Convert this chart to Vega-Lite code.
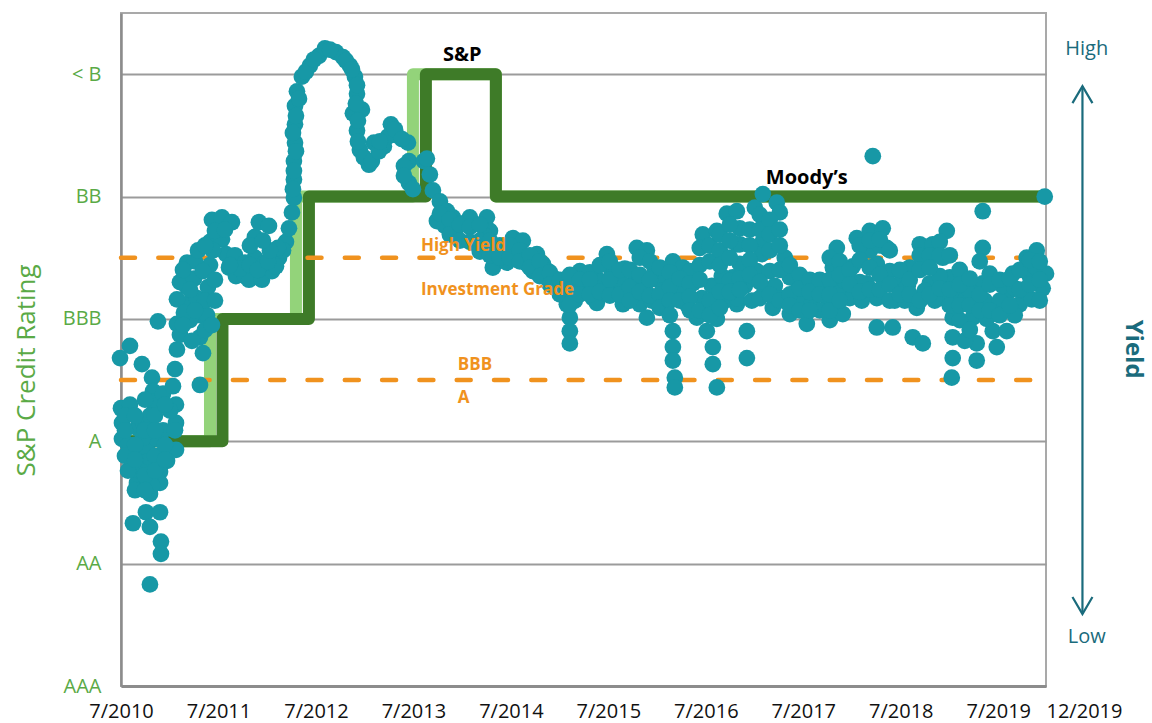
{
  "$schema": "https://vega.github.io/schema/vega-lite/v6.json",
  "width": 925,
  "height": 673,
  "autosize": {"type": "none"},
  "padding": {"left": 121, "top": 13, "right": 106, "bottom": 37},
  "background": "white",
  "config": {"font": "Open Sans", "view": {"stroke": "#a9a9a9", "strokeWidth": 2}},
  "datasets": {
    "ratings": [
      {"agency": "Moody's", "year": 2010.5, "rating": 2},
      {"agency": "Moody's", "year": 2011.413, "rating": 3},
      {"agency": "Moody's", "year": 2012.295, "rating": 4},
      {"agency": "Moody's", "year": 2013.495, "rating": 5},
      {"agency": "Moody's", "year": 2014.346, "rating": 4},
      {"agency": "Moody's", "year": 2019.99, "rating": 4},
      {"agency": "S&P", "year": 2010.5, "rating": 2},
      {"agency": "S&P", "year": 2011.541, "rating": 3},
      {"agency": "S&P", "year": 2012.428, "rating": 4},
      {"agency": "S&P", "year": 2013.628, "rating": 5},
      {"agency": "S&P", "year": 2014.346, "rating": 4},
      {"agency": "S&P", "year": 2019.99, "rating": 4}
    ],
    "boundaries": [
      {"name": "High Yield / Investment Grade", "rating": 3.5},
      {"name": "BBB / A", "rating": 2.5}
    ],
    "yields": [
      {"year": 2010.49, "level": 2.68}, {"year": 2010.592, "level": 2.78}, {"year": 2010.715, "level": 2.63}, {"year": 2010.818, "level": 2.52},
      {"year": 2010.828, "level": 2.41}, {"year": 2011.054, "level": 2.59}, {"year": 2011.31, "level": 2.46}, {"year": 2010.5, "level": 2.27},
      {"year": 2010.592, "level": 2.30}, {"year": 2010.51, "level": 2.15}, {"year": 2010.51, "level": 2.02}, {"year": 2010.664, "level": 2.11},
      {"year": 2010.726, "level": 2.15}, {"year": 2010.828, "level": 2.32}, {"year": 2010.931, "level": 2.39}, {"year": 2011.033, "level": 2.45},
      {"year": 2011.064, "level": 2.30}, {"year": 2011.064, "level": 2.15}, {"year": 2011.064, "level": 1.93}, {"year": 2010.972, "level": 1.84},
      {"year": 2010.9, "level": 1.75}, {"year": 2010.9, "level": 1.66}, {"year": 2010.797, "level": 1.57}, {"year": 2010.664, "level": 1.66},
      {"year": 2010.623, "level": 1.81}, {"year": 2010.664, "level": 1.93}, {"year": 2010.767, "level": 1.93}, {"year": 2010.869, "level": 2.02},
      {"year": 2010.623, "level": 1.33}, {"year": 2010.756, "level": 1.42}, {"year": 2010.9, "level": 1.42}, {"year": 2010.797, "level": 1.30},
      {"year": 2010.91, "level": 1.18}, {"year": 2010.91, "level": 1.08}, {"year": 2010.797, "level": 0.83},
      {"year": 2010.572, "level": 1.97}, {"year": 2010.726, "level": 2.03}, {"year": 2010.797, "level": 2.21}, {"year": 2010.931, "level": 2.09},
      {"year": 2011.003, "level": 2.25}, {"year": 2010.746, "level": 1.83}, {"year": 2010.849, "level": 1.88}, {"year": 2010.951, "level": 1.97},
      {"year": 2010.695, "level": 1.76}, {"year": 2010.818, "level": 1.64}, {"year": 2010.572, "level": 1.76}, {"year": 2010.541, "level": 1.88},
      {"year": 2010.541, "level": 2.21}, {"year": 2010.541, "level": 2.09}, {"year": 2010.644, "level": 2.21}, {"year": 2010.644, "level": 1.97},
      {"year": 2010.644, "level": 1.85}, {"year": 2010.644, "level": 1.60}, {"year": 2010.746, "level": 2.34}, {"year": 2010.746, "level": 2.09},
      {"year": 2010.746, "level": 1.72}, {"year": 2010.746, "level": 1.60}, {"year": 2010.849, "level": 2.21}, {"year": 2010.849, "level": 2.09},
      {"year": 2010.849, "level": 1.76}, {"year": 2010.951, "level": 2.30}, {"year": 2010.951, "level": 1.85}, {"year": 2011.054, "level": 2.09},
      {"year": 2010.879, "level": 2.98}, {"year": 2011.074, "level": 2.96}, {"year": 2011.074, "level": 2.75}, {"year": 2011.105, "level": 2.87},
      {"year": 2011.177, "level": 3.12}, {"year": 2011.177, "level": 3.26}, {"year": 2011.177, "level": 3.46}, {"year": 2011.105, "level": 3.30},
      {"year": 2011.074, "level": 3.16}, {"year": 2011.249, "level": 3.33}, {"year": 2011.279, "level": 3.17}, {"year": 2011.31, "level": 3.03},
      {"year": 2011.31, "level": 2.85}, {"year": 2011.341, "level": 2.72}, {"year": 2011.382, "level": 3.03}, {"year": 2011.392, "level": 3.26},
      {"year": 2011.413, "level": 3.44}, {"year": 2011.413, "level": 3.63}, {"year": 2011.433, "level": 3.81}, {"year": 2011.536, "level": 3.83},
      {"year": 2011.638, "level": 3.79}, {"year": 2011.536, "level": 3.65}, {"year": 2011.577, "level": 3.53}, {"year": 2011.608, "level": 3.42},
      {"year": 2011.679, "level": 3.35}, {"year": 2011.772, "level": 3.35}, {"year": 2011.813, "level": 3.32}, {"year": 2011.874, "level": 3.50},
      {"year": 2011.874, "level": 3.67}, {"year": 2011.915, "level": 3.79}, {"year": 2012.018, "level": 3.76}, {"year": 2011.946, "level": 3.32},
      {"year": 2012.049, "level": 3.39}, {"year": 2012.121, "level": 3.50}, {"year": 2012.192, "level": 3.63}, {"year": 2012.223, "level": 3.74},
      {"year": 2012.254, "level": 3.87}, {"year": 2012.274, "level": 3.99}, {"year": 2012.274, "level": 4.14}, {"year": 2012.274, "level": 4.29},
      {"year": 2012.285, "level": 4.44}, {"year": 2012.285, "level": 4.59}, {"year": 2012.285, "level": 4.74}, {"year": 2012.305, "level": 4.86},
      {"year": 2012.356, "level": 4.98}, {"year": 2012.438, "level": 5.07}, {"year": 2012.531, "level": 5.15}, {"year": 2012.592, "level": 5.21},
      {"year": 2012.705, "level": 5.18}, {"year": 2012.777, "level": 5.14}, {"year": 2012.849, "level": 5.07}, {"year": 2012.9, "level": 4.98},
      {"year": 2012.921, "level": 4.84}, {"year": 2012.879, "level": 4.68}, {"year": 2012.972, "level": 4.71}, {"year": 2012.921, "level": 4.54},
      {"year": 2012.951, "level": 4.38}, {"year": 2013.044, "level": 4.26}, {"year": 2013.095, "level": 4.44}, {"year": 2013.197, "level": 4.41},
      {"year": 2013.269, "level": 4.59}, {"year": 2013.331, "level": 4.50}, {"year": 2013.444, "level": 4.44}, {"year": 2013.454, "level": 4.29},
      {"year": 2013.454, "level": 4.11}, {"year": 2013.608, "level": 4.29},
      {"year": 2011.208, "level": 2.99}, {"year": 2011.259, "level": 3.47}, {"year": 2011.341, "level": 3.39}, {"year": 2011.362, "level": 3.15},
      {"year": 2011.444, "level": 3.56}, {"year": 2011.464, "level": 3.72}, {"year": 2011.146, "level": 3.05}, {"year": 2011.228, "level": 2.82},
      {"year": 2011.669, "level": 3.52}, {"year": 2011.772, "level": 3.46}, {"year": 2011.977, "level": 3.46}, {"year": 2011.823, "level": 3.60},
      {"year": 2011.721, "level": 3.41}, {"year": 2012.162, "level": 3.56}, {"year": 2012.09, "level": 3.43},
      {"year": 2011.136, "level": 3.40}, {"year": 2011.208, "level": 3.24}, {"year": 2011.136, "level": 2.95}, {"year": 2011.259, "level": 3.07},
      {"year": 2011.362, "level": 2.91}, {"year": 2011.29, "level": 3.56}, {"year": 2011.362, "level": 3.60}, {"year": 2011.464, "level": 3.32},
      {"year": 2011.464, "level": 3.15}, {"year": 2011.433, "level": 2.95}, {"year": 2011.567, "level": 3.73}, {"year": 2011.618, "level": 3.44},
      {"year": 2011.823, "level": 3.44}, {"year": 2011.905, "level": 3.40}, {"year": 2012.008, "level": 3.47}, {"year": 2012.11, "level": 3.58},
      {"year": 2012.028, "level": 3.56}, {"year": 2011.956, "level": 3.64},
      {"year": 2012.264, "level": 4.06}, {"year": 2012.274, "level": 4.21}, {"year": 2012.295, "level": 4.37}, {"year": 2012.264, "level": 4.52},
      {"year": 2012.295, "level": 4.66}, {"year": 2012.326, "level": 4.80}, {"year": 2012.397, "level": 5.02}, {"year": 2012.479, "level": 5.12},
      {"year": 2012.644, "level": 5.20}, {"year": 2012.808, "level": 5.11}, {"year": 2012.869, "level": 5.04}, {"year": 2012.921, "level": 4.91},
      {"year": 2012.91, "level": 4.76}, {"year": 2012.931, "level": 4.62}, {"year": 2012.931, "level": 4.45}, {"year": 2012.992, "level": 4.32},
      {"year": 2013.074, "level": 4.29}, {"year": 2013.146, "level": 4.37}, {"year": 2013.238, "level": 4.49}, {"year": 2013.31, "level": 4.55},
      {"year": 2013.382, "level": 4.47}, {"year": 2013.403, "level": 4.25}, {"year": 2013.403, "level": 4.17}, {"year": 2013.495, "level": 4.06},
      {"year": 2013.156, "level": 4.45},
      {"year": 2013.638, "level": 4.31}, {"year": 2013.669, "level": 4.18}, {"year": 2013.7, "level": 4.05}, {"year": 2013.772, "level": 3.96},
      {"year": 2013.741, "level": 3.80}, {"year": 2013.844, "level": 3.88}, {"year": 2013.905, "level": 3.83}, {"year": 2014.008, "level": 3.78},
      {"year": 2014.079, "level": 3.83}, {"year": 2014.254, "level": 3.83}, {"year": 2014.151, "level": 3.61}, {"year": 2014.285, "level": 3.72},
      {"year": 2014.315, "level": 3.42}, {"year": 2014.418, "level": 3.53}, {"year": 2014.521, "level": 3.66}, {"year": 2014.623, "level": 3.64},
      {"year": 2014.664, "level": 3.45}, {"year": 2014.767, "level": 3.53}, {"year": 2014.828, "level": 3.45}, {"year": 2014.931, "level": 3.34},
      {"year": 2015.003, "level": 3.23}, {"year": 2015.074, "level": 3.12}, {"year": 2015.105, "level": 3.01}, {"year": 2015.105, "level": 2.90},
      {"year": 2015.105, "level": 2.80}, {"year": 2015.208, "level": 3.39}, {"year": 2015.279, "level": 3.25}, {"year": 2015.341, "level": 3.17},
      {"year": 2015.485, "level": 3.53}, {"year": 2015.413, "level": 3.31}, {"year": 2015.587, "level": 3.23}, {"year": 2015.649, "level": 3.12},
      {"year": 2015.751, "level": 3.29}, {"year": 2015.792, "level": 3.58}, {"year": 2015.895, "level": 3.56}, {"year": 2015.823, "level": 3.12},
      {"year": 2015.895, "level": 3.01}, {"year": 2016.028, "level": 3.31}, {"year": 2016.1, "level": 3.12}, {"year": 2016.162, "level": 3.47},
      {"year": 2016.264, "level": 3.42}, {"year": 2016.162, "level": 2.90}, {"year": 2016.162, "level": 2.77}, {"year": 2016.162, "level": 2.66},
      {"year": 2016.182, "level": 2.52}, {"year": 2016.182, "level": 2.44}, {"year": 2016.367, "level": 3.29}, {"year": 2016.469, "level": 3.69},
      {"year": 2016.613, "level": 3.72}, {"year": 2016.715, "level": 3.86}, {"year": 2016.818, "level": 3.88}, {"year": 2016.408, "level": 3.01},
      {"year": 2016.51, "level": 2.90}, {"year": 2016.572, "level": 2.77}, {"year": 2016.572, "level": 2.63}, {"year": 2016.613, "level": 2.44},
      {"year": 2016.777, "level": 3.34}, {"year": 2016.818, "level": 3.61}, {"year": 2016.818, "level": 3.12}, {"year": 2016.849, "level": 3.45},
      {"year": 2013.823, "level": 3.76}, {"year": 2013.926, "level": 3.70}, {"year": 2014.233, "level": 3.68}, {"year": 2014.356, "level": 3.57},
      {"year": 2014.459, "level": 3.46}, {"year": 2014.562, "level": 3.54}, {"year": 2014.726, "level": 3.39}, {"year": 2014.879, "level": 3.39},
      {"year": 2014.972, "level": 3.27}, {"year": 2015.054, "level": 3.30}, {"year": 2015.156, "level": 3.15}, {"year": 2015.31, "level": 3.38},
      {"year": 2015.382, "level": 3.13}, {"year": 2015.474, "level": 3.21}, {"year": 2015.536, "level": 3.39}, {"year": 2015.618, "level": 3.31},
      {"year": 2015.7, "level": 3.17}, {"year": 2015.874, "level": 3.27}, {"year": 2015.946, "level": 3.15}, {"year": 2015.977, "level": 3.41},
      {"year": 2016.059, "level": 3.23}, {"year": 2016.233, "level": 3.23}, {"year": 2016.315, "level": 3.11}, {"year": 2016.336, "level": 3.39},
      {"year": 2016.459, "level": 3.17}, {"year": 2016.562, "level": 3.27}, {"year": 2016.664, "level": 3.35}, {"year": 2016.695, "level": 3.15},
      {"year": 2016.613, "level": 3.00}, {"year": 2015.669, "level": 3.41},
      {"year": 2016.849, "level": 3.74}, {"year": 2016.849, "level": 3.61}, {"year": 2016.746, "level": 3.31}, {"year": 2016.818, "level": 3.17},
      {"year": 2016.921, "level": 2.90}, {"year": 2016.921, "level": 2.68}, {"year": 2017.003, "level": 3.91}, {"year": 2017.085, "level": 4.02},
      {"year": 2017.228, "level": 3.95}, {"year": 2017.259, "level": 3.87}, {"year": 2017.074, "level": 3.62}, {"year": 2017.074, "level": 3.53},
      {"year": 2017.023, "level": 3.39}, {"year": 2017.156, "level": 3.39}, {"year": 2017.31, "level": 3.50}, {"year": 2017.362, "level": 3.34},
      {"year": 2017.433, "level": 3.23}, {"year": 2017.187, "level": 3.09}, {"year": 2017.362, "level": 3.04}, {"year": 2017.536, "level": 2.96},
      {"year": 2017.638, "level": 3.23}, {"year": 2017.741, "level": 3.09}, {"year": 2017.772, "level": 2.99}, {"year": 2017.905, "level": 3.04},
      {"year": 2017.803, "level": 3.42}, {"year": 2017.844, "level": 3.58}, {"year": 2017.977, "level": 3.17}, {"year": 2018.049, "level": 3.66},
      {"year": 2018.182, "level": 3.72}, {"year": 2018.315, "level": 3.74}, {"year": 2018.254, "level": 3.45}, {"year": 2018.151, "level": 3.29},
      {"year": 2018.254, "level": 3.17}, {"year": 2018.356, "level": 3.58}, {"year": 2018.387, "level": 3.39}, {"year": 2018.254, "level": 2.93},
      {"year": 2018.418, "level": 2.93}, {"year": 2018.49, "level": 3.29}, {"year": 2018.592, "level": 3.42}, {"year": 2018.695, "level": 3.61},
      {"year": 2018.797, "level": 3.29}, {"year": 2018.664, "level": 3.09}, {"year": 2018.623, "level": 2.85}, {"year": 2018.726, "level": 2.80},
      {"year": 2018.828, "level": 3.61}, {"year": 2018.972, "level": 3.72}, {"year": 2018.931, "level": 3.50}, {"year": 2019.003, "level": 3.34},
      {"year": 2018.931, "level": 3.17}, {"year": 2019.136, "level": 3.29}, {"year": 2019.033, "level": 3.01}, {"year": 2019.033, "level": 2.85},
      {"year": 2019.033, "level": 2.68}, {"year": 2019.023, "level": 2.52}, {"year": 2019.238, "level": 3.01}, {"year": 2019.279, "level": 2.80},
      {"year": 2019.279, "level": 2.66}, {"year": 2019.485, "level": 2.77}, {"year": 2019.444, "level": 2.90}, {"year": 2019.341, "level": 3.29},
      {"year": 2019.413, "level": 3.37}, {"year": 2019.587, "level": 2.90}, {"year": 2019.618, "level": 3.23}, {"year": 2019.649, "level": 3.37},
      {"year": 2019.721, "level": 3.12}, {"year": 2019.792, "level": 3.50}, {"year": 2019.895, "level": 3.56}, {"year": 2019.99, "level": 3.37},
      {"year": 2019.956, "level": 3.25}, {"year": 2019.977, "level": 4.00}, {"year": 2019.341, "level": 3.88}, {"year": 2019.341, "level": 3.58},
      {"year": 2018.213, "level": 4.33},
      {"year": 2016.9, "level": 3.27}, {"year": 2016.972, "level": 3.15}, {"year": 2017.105, "level": 3.23}, {"year": 2017.208, "level": 3.27},
      {"year": 2017.279, "level": 3.17}, {"year": 2017.464, "level": 3.15}, {"year": 2017.515, "level": 3.31}, {"year": 2017.587, "level": 3.12},
      {"year": 2017.669, "level": 3.07}, {"year": 2017.721, "level": 3.27}, {"year": 2017.854, "level": 3.23}, {"year": 2017.926, "level": 3.31},
      {"year": 2018.008, "level": 3.43}, {"year": 2018.079, "level": 3.30}, {"year": 2018.1, "level": 3.15}, {"year": 2018.182, "level": 3.56},
      {"year": 2018.285, "level": 3.60}, {"year": 2018.438, "level": 3.15}, {"year": 2018.541, "level": 3.15}, {"year": 2018.572, "level": 3.27},
      {"year": 2018.746, "level": 3.23}, {"year": 2018.849, "level": 3.15}, {"year": 2018.746, "level": 3.43}, {"year": 2018.9, "level": 3.35},
      {"year": 2019.085, "level": 3.19}, {"year": 2019.156, "level": 3.15}, {"year": 2019.208, "level": 3.23}, {"year": 2019.362, "level": 3.15},
      {"year": 2019.515, "level": 3.15}, {"year": 2019.546, "level": 3.27}, {"year": 2019.669, "level": 3.25}, {"year": 2019.772, "level": 3.23},
      {"year": 2019.823, "level": 3.35}, {"year": 2019.874, "level": 3.43}, {"year": 2019.844, "level": 3.16}, {"year": 2019.105, "level": 2.99},
      {"year": 2019.156, "level": 2.82}, {"year": 2019.382, "level": 3.00}, {"year": 2019.669, "level": 3.03},
      {"year": 2013.772, "level": 3.86}, {"year": 2013.874, "level": 3.81}, {"year": 2013.874, "level": 3.69}, {"year": 2013.977, "level": 3.77},
      {"year": 2013.977, "level": 3.64}, {"year": 2014.079, "level": 3.75}, {"year": 2014.079, "level": 3.63}, {"year": 2014.182, "level": 3.77},
      {"year": 2014.182, "level": 3.64}, {"year": 2014.182, "level": 3.55}, {"year": 2014.285, "level": 3.64}, {"year": 2014.285, "level": 3.52},
      {"year": 2014.387, "level": 3.60}, {"year": 2014.387, "level": 3.50}, {"year": 2014.49, "level": 3.60}, {"year": 2014.49, "level": 3.50},
      {"year": 2014.592, "level": 3.56}, {"year": 2014.592, "level": 3.47}, {"year": 2014.695, "level": 3.52}, {"year": 2014.695, "level": 3.42},
      {"year": 2014.797, "level": 3.47}, {"year": 2014.797, "level": 3.35}, {"year": 2014.9, "level": 3.38}, {"year": 2014.9, "level": 3.28},
      {"year": 2015.003, "level": 3.32}, {"year": 2015.003, "level": 3.20}, {"year": 2015.105, "level": 3.36}, {"year": 2015.105, "level": 3.24},
      {"year": 2015.105, "level": 3.12}, {"year": 2015.208, "level": 3.32}, {"year": 2015.208, "level": 3.20}, {"year": 2015.31, "level": 3.32},
      {"year": 2015.31, "level": 3.20}, {"year": 2015.413, "level": 3.44}, {"year": 2015.413, "level": 3.22}, {"year": 2015.515, "level": 3.47},
      {"year": 2015.515, "level": 3.32}, {"year": 2015.515, "level": 3.19}, {"year": 2015.618, "level": 3.40}, {"year": 2015.618, "level": 3.20},
      {"year": 2015.721, "level": 3.40}, {"year": 2015.721, "level": 3.26}, {"year": 2015.721, "level": 3.15}, {"year": 2015.823, "level": 3.50},
      {"year": 2015.823, "level": 3.36}, {"year": 2015.823, "level": 3.22}, {"year": 2015.926, "level": 3.47}, {"year": 2015.926, "level": 3.32},
      {"year": 2015.926, "level": 3.19}, {"year": 2016.028, "level": 3.42}, {"year": 2016.028, "level": 3.20}, {"year": 2016.028, "level": 3.09},
      {"year": 2016.131, "level": 3.38}, {"year": 2016.131, "level": 3.26}, {"year": 2016.131, "level": 3.15}, {"year": 2016.131, "level": 3.03},
      {"year": 2016.233, "level": 3.33}, {"year": 2016.233, "level": 3.15}, {"year": 2016.336, "level": 3.29}, {"year": 2016.336, "level": 3.18},
      {"year": 2016.336, "level": 3.07}, {"year": 2016.438, "level": 3.58}, {"year": 2016.438, "level": 3.44}, {"year": 2016.438, "level": 3.32},
      {"year": 2016.438, "level": 3.07}, {"year": 2016.541, "level": 3.60}, {"year": 2016.541, "level": 3.47}, {"year": 2016.541, "level": 3.15},
      {"year": 2016.541, "level": 3.03}, {"year": 2016.644, "level": 3.69}, {"year": 2016.644, "level": 3.56}, {"year": 2016.644, "level": 3.44},
      {"year": 2016.644, "level": 3.22}, {"year": 2016.644, "level": 3.09}, {"year": 2016.746, "level": 3.77}, {"year": 2016.746, "level": 3.64},
      {"year": 2016.746, "level": 3.50}, {"year": 2016.746, "level": 3.22}, {"year": 2016.849, "level": 3.33}, {"year": 2016.849, "level": 3.24},
      {"year": 2016.951, "level": 3.73}, {"year": 2016.951, "level": 3.60}, {"year": 2016.951, "level": 3.48}, {"year": 2016.951, "level": 3.36},
      {"year": 2017.054, "level": 3.85}, {"year": 2017.054, "level": 3.73}, {"year": 2017.054, "level": 3.30}, {"year": 2017.054, "level": 3.17},
      {"year": 2017.156, "level": 3.81}, {"year": 2017.156, "level": 3.69}, {"year": 2017.156, "level": 3.56}, {"year": 2017.156, "level": 3.20},
      {"year": 2017.259, "level": 3.73}, {"year": 2017.259, "level": 3.60}, {"year": 2017.259, "level": 3.40}, {"year": 2017.259, "level": 3.15},
      {"year": 2017.362, "level": 3.44}, {"year": 2017.362, "level": 3.20}, {"year": 2017.362, "level": 3.11}, {"year": 2017.464, "level": 3.36},
      {"year": 2017.464, "level": 3.25}, {"year": 2017.464, "level": 3.07}, {"year": 2017.567, "level": 3.32}, {"year": 2017.567, "level": 3.22},
      {"year": 2017.567, "level": 3.07}, {"year": 2017.669, "level": 3.32}, {"year": 2017.669, "level": 3.20}, {"year": 2017.772, "level": 3.50},
      {"year": 2017.772, "level": 3.32}, {"year": 2017.772, "level": 3.20}, {"year": 2017.772, "level": 3.07}, {"year": 2017.874, "level": 3.47},
      {"year": 2017.874, "level": 3.36}, {"year": 2017.874, "level": 3.15}, {"year": 2017.977, "level": 3.40}, {"year": 2017.977, "level": 3.28},
      {"year": 2018.079, "level": 3.60}, {"year": 2018.079, "level": 3.48}, {"year": 2018.079, "level": 3.22}, {"year": 2018.182, "level": 3.64},
      {"year": 2018.182, "level": 3.42}, {"year": 2018.182, "level": 3.24}, {"year": 2018.285, "level": 3.65}, {"year": 2018.285, "level": 3.36},
      {"year": 2018.285, "level": 3.24}, {"year": 2018.387, "level": 3.56}, {"year": 2018.387, "level": 3.28}, {"year": 2018.387, "level": 3.15},
      {"year": 2018.49, "level": 3.40}, {"year": 2018.49, "level": 3.20}, {"year": 2018.592, "level": 3.32}, {"year": 2018.592, "level": 3.20},
      {"year": 2018.695, "level": 3.52}, {"year": 2018.695, "level": 3.40}, {"year": 2018.695, "level": 3.15}, {"year": 2018.797, "level": 3.52},
      {"year": 2018.797, "level": 3.42}, {"year": 2018.797, "level": 3.20}, {"year": 2018.9, "level": 3.63}, {"year": 2018.9, "level": 3.52},
      {"year": 2018.9, "level": 3.25}, {"year": 2019.003, "level": 3.52}, {"year": 2019.003, "level": 3.24}, {"year": 2019.003, "level": 3.11},
      {"year": 2019.105, "level": 3.40}, {"year": 2019.105, "level": 3.28}, {"year": 2019.105, "level": 3.11}, {"year": 2019.208, "level": 3.33},
      {"year": 2019.208, "level": 3.11}, {"year": 2019.208, "level": 2.91}, {"year": 2019.31, "level": 3.47}, {"year": 2019.31, "level": 3.20},
      {"year": 2019.31, "level": 3.07}, {"year": 2019.413, "level": 3.28}, {"year": 2019.413, "level": 3.07}, {"year": 2019.515, "level": 3.32},
      {"year": 2019.515, "level": 3.03}, {"year": 2019.618, "level": 3.33}, {"year": 2019.618, "level": 3.11}, {"year": 2019.721, "level": 3.40},
      {"year": 2019.721, "level": 3.24}, {"year": 2019.823, "level": 3.48}, {"year": 2019.823, "level": 3.28}, {"year": 2019.926, "level": 3.47},
      {"year": 2019.926, "level": 3.32}, {"year": 2019.926, "level": 3.15}
    ]
  },
  "layer": [
    {
      "data": {"name": "yields"},
      "mark": {"type": "circle", "color": "#1798a6", "size": 280, "opacity": 0},
      "encoding": {
        "x": {
          "field": "year", "type": "quantitative",
          "scale": {"domain": [2010.5, 2019.99], "nice": false, "zero": false},
          "axis": {
            "title": null,
            "values": [2010.5, 2011.5, 2012.5, 2013.5, 2014.5, 2015.5, 2016.5, 2017.5, 2018.5, 2019.5, 2019.99],
            "labelExpr": "datum.value > 2019.9 ? '12/2019' : '7/' + floor(datum.value)",
            "labelAlign": {"condition": {"test": "datum.value > 2019.9", "value": "left"}, "value": "center"},
            "labelFontSize": 20, "labelColor": "#111111", "labelPadding": 15,
            "ticks": false, "grid": false, "labelOverlap": false, "labelFlush": false, "labelBound": false,
            "domainColor": "#8c8c8c", "domainWidth": 3
          }
        },
        "y": {
          "field": "level", "type": "quantitative",
          "scale": {"domain": [0, 5.5], "nice": false, "zero": false},
          "axis": {
            "title": "S&P Credit Rating",
            "values": [0, 1, 2, 3, 4, 5],
            "labelExpr": "['AAA','AA','A','BBB','BB','< B'][datum.value]",
            "labelFontSize": 20, "labelColor": "#5aaa46", "labelPadding": 20, "ticks": false,
            "grid": true, "gridColor": "#9b9b9b", "gridWidth": 2,
            "domainColor": "#8c8c8c", "domainWidth": 2.5,
            "titleFontSize": 26, "titleFontWeight": "normal", "titleColor": "#5aaa46",
            "titleX": -95, "titleY": 357, "titleBaseline": "middle", "titleAngle": -90, "titleAlign": "center"
          }
        }
      }
    },
    {
      "data": {"name": "ratings"},
      "transform": [{"filter": "datum.agency === \"Moody's\""}],
      "mark": {"type": "line", "interpolate": "step-after", "color": "#93d37a", "strokeWidth": 12, "strokeJoin": "round"},
      "encoding": {
        "x": {"field": "year", "type": "quantitative"},
        "y": {"field": "rating", "type": "quantitative"}
      }
    },
    {
      "data": {"name": "ratings"},
      "transform": [{"filter": "datum.agency === 'S&P'"}],
      "mark": {"type": "line", "interpolate": "step-after", "color": "#3e7b28", "strokeWidth": 12, "strokeJoin": "round"},
      "encoding": {
        "x": {"field": "year", "type": "quantitative"},
        "y": {"field": "rating", "type": "quantitative"}
      }
    },
    {
      "data": {"name": "boundaries"},
      "mark": {"type": "rule", "color": "#f0921e", "strokeWidth": 4.5, "strokeDash": [14, 23.3], "strokeCap": "round"},
      "encoding": {
        "x": {"datum": 2010.5, "type": "quantitative"},
        "x2": {"datum": 2019.99},
        "y": {"field": "rating", "type": "quantitative"}
      }
    },
    {
      "data": {"name": "yields"},
      "mark": {"type": "circle", "color": "#1798a6", "size": 280, "opacity": 1},
      "encoding": {
        "x": {"field": "year", "type": "quantitative"},
        "y": {"field": "level", "type": "quantitative"}
      }
    },
    {
      "data": {"values": [{}]},
      "layer": [
        {
          "mark": {"type": "text", "text": "High Yield", "align": "left", "baseline": "alphabetic", "fontSize": 17, "fontWeight": "bold", "color": "#f0921e"},
          "encoding": {"x": {"datum": 2013.577, "type": "quantitative"}, "y": {"datum": 3.556, "type": "quantitative"}}
        },
        {
          "mark": {"type": "text", "text": "Investment Grade", "align": "left", "baseline": "alphabetic", "fontSize": 17, "fontWeight": "bold", "color": "#f0921e"},
          "encoding": {"x": {"datum": 2013.577, "type": "quantitative"}, "y": {"datum": 3.197, "type": "quantitative"}}
        },
        {
          "mark": {"type": "text", "text": "BBB", "align": "left", "baseline": "alphabetic", "fontSize": 17, "fontWeight": "bold", "color": "#f0921e"},
          "encoding": {"x": {"datum": 2013.956, "type": "quantitative"}, "y": {"datum": 2.58, "type": "quantitative"}}
        },
        {
          "mark": {"type": "text", "text": "A", "align": "left", "baseline": "alphabetic", "fontSize": 17, "fontWeight": "bold", "color": "#f0921e"},
          "encoding": {"x": {"datum": 2013.956, "type": "quantitative"}, "y": {"datum": 2.31, "type": "quantitative"}}
        },
        {
          "mark": {"type": "text", "text": "S&P", "align": "left", "baseline": "alphabetic", "fontSize": 20, "fontWeight": "bold", "color": "#000000"},
          "encoding": {"x": {"datum": 2013.803, "type": "quantitative"}, "y": {"datum": 5.11, "type": "quantitative"}}
        },
        {
          "mark": {"type": "text", "text": "Moody’s", "align": "left", "baseline": "alphabetic", "fontSize": 20, "fontWeight": "bold", "color": "#000000"},
          "encoding": {"x": {"datum": 2017.115, "type": "quantitative"}, "y": {"datum": 4.10, "type": "quantitative"}}
        },
        {
          "mark": {"type": "text", "text": "High", "align": "center", "baseline": "alphabetic", "fontSize": 20, "color": "#1a6b7c"},
          "encoding": {"x": {"datum": 2020.408, "type": "quantitative"}, "y": {"datum": 5.155, "type": "quantitative"}}
        },
        {
          "mark": {"type": "text", "text": "Low", "align": "center", "baseline": "alphabetic", "fontSize": 20, "color": "#1a6b7c"},
          "encoding": {"x": {"datum": 2020.408, "type": "quantitative"}, "y": {"datum": 0.351, "type": "quantitative"}}
        },
        {
          "mark": {"type": "text", "text": "Yield", "align": "center", "baseline": "middle", "angle": 90, "fontSize": 24, "fontWeight": "bold", "color": "#1a6b7c"},
          "encoding": {"x": {"datum": 2020.88, "type": "quantitative"}, "y": {"datum": 2.753, "type": "quantitative"}}
        },
        {
          "mark": {"type": "rule", "color": "#1a6b7c", "strokeWidth": 2.2},
          "encoding": {
            "x": {"datum": 2020.364, "type": "quantitative"},
            "y": {"datum": 4.902, "type": "quantitative"},
            "y2": {"datum": 0.588}
          }
        },
        {
          "mark": {"type": "point", "shape": "M-1,1.7L0,0L1,1.7", "filled": false, "stroke": "#1a6b7c", "strokeWidth": 2.2, "size": 400, "opacity": 1, "strokeJoin": "miter"},
          "encoding": {"x": {"datum": 2020.364, "type": "quantitative"}, "y": {"datum": 4.902, "type": "quantitative"}}
        },
        {
          "mark": {"type": "point", "shape": "M-1,-1.7L0,0L1,-1.7", "filled": false, "stroke": "#1a6b7c", "strokeWidth": 2.2, "size": 400, "opacity": 1, "strokeJoin": "miter"},
          "encoding": {"x": {"datum": 2020.364, "type": "quantitative"}, "y": {"datum": 0.588, "type": "quantitative"}}
        }
      ]
    }
  ]
}
